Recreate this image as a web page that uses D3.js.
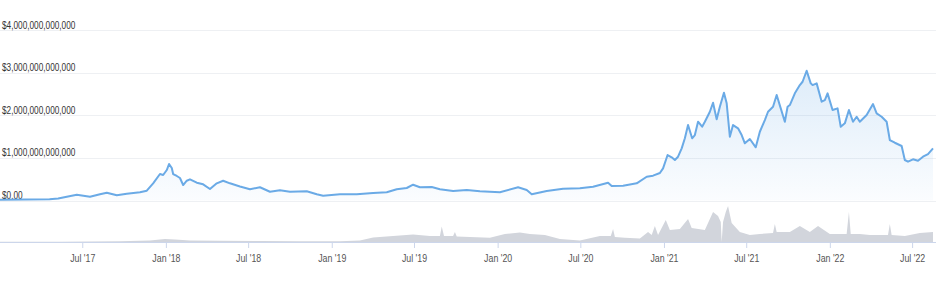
<!DOCTYPE html>
<html>
<head>
<meta charset="utf-8">
<script src="https://cdn.jsdelivr.net/npm/d3@7/dist/d3.min.js"></script>
<style>
  body { margin: 0; background: #fff; }
  svg { display: block; font-family: "Liberation Sans", Arial, sans-serif; }
</style>
</head>
<body>
<svg width="936" height="288"></svg>
<script>
// total market cap, billions of USD
var capDates = [
  "2017-01-01","2017-02-25","2017-04-20","2017-05-09","2017-05-28","2017-06-19","2017-07-18","2017-08-09",
  "2017-08-24","2017-09-15","2017-10-07","2017-11-05","2017-11-20","2017-12-04","2017-12-19","2017-12-26",
  "2018-01-03","2018-01-08","2018-01-14","2018-01-17","2018-01-25","2018-02-01","2018-02-08","2018-02-16",
  "2018-02-23","2018-03-10","2018-03-24","2018-04-08","2018-04-23","2018-05-07","2018-05-22","2018-06-13",
  "2018-07-05","2018-07-27","2018-08-18","2018-09-09","2018-10-01","2018-11-07","2018-11-29","2018-12-13",
  "2019-01-19","2019-02-25","2019-04-02","2019-05-02","2019-05-24","2019-06-15","2019-06-29","2019-07-14",
  "2019-08-09","2019-08-27","2019-09-25","2019-10-25","2019-11-23","2020-01-06","2020-02-15","2020-03-05",
  "2020-03-16","2020-04-18","2020-05-24","2020-06-30","2020-07-29","2020-08-31","2020-09-08","2020-10-03",
  "2020-11-02","2020-11-24","2020-12-08","2020-12-23","2020-12-30","2021-01-09","2021-01-18","2021-01-25",
  "2021-02-01","2021-02-09","2021-02-16","2021-02-23","2021-03-04","2021-03-10","2021-03-17","2021-03-26",
  "2021-04-01","2021-04-12","2021-04-19","2021-04-27","2021-05-04","2021-05-13","2021-05-19","2021-05-26",
  "2021-06-02","2021-06-13","2021-06-21","2021-06-28","2021-07-09","2021-07-22","2021-07-31","2021-08-11",
  "2021-08-18","2021-08-29","2021-09-06","2021-09-15","2021-09-24","2021-09-30","2021-10-05","2021-10-16",
  "2021-10-27","2021-11-02","2021-11-11","2021-11-20","2021-11-24","2021-12-03","2021-12-14","2021-12-21",
  "2021-12-27","2022-01-07","2022-01-18","2022-01-25","2022-02-03","2022-02-12","2022-02-21","2022-03-01",
  "2022-03-08","2022-03-23","2022-04-06","2022-04-14","2022-04-25","2022-05-06","2022-05-13","2022-05-24",
  "2022-06-08","2022-06-15","2022-06-22","2022-07-03","2022-07-14","2022-07-25","2022-08-05","2022-08-16"
];
var capValues = [
  18, 21, 28, 47, 89, 136, 89, 145,
  183, 122, 160, 192, 230, 403, 621, 598,
  715, 856, 762, 621, 575, 528, 363, 464,
  497, 417, 380, 270, 403, 464, 403, 328,
  263, 310, 206, 239, 206, 216, 145, 113,
  145, 145, 176, 192, 263, 293, 370, 310,
  317, 263, 223, 246, 218, 192, 310, 246,
  145, 223, 277, 286, 324, 417, 340, 347,
  403, 558, 582, 645, 755, 1067, 1013, 950,
  1027, 1224, 1459, 1770, 1459, 1536, 1848, 1731,
  1848, 2082, 2293, 1904, 2200, 2528, 2279, 1496,
  1770, 1693, 1536, 1341, 1442, 1248, 1613, 1888,
  2082, 2200, 2474, 2162, 1848, 2200, 2239, 2514,
  2708, 2786, 3044, 2748, 2708, 2748, 2317, 2357,
  2514, 2122, 2162, 1731, 1810, 2122, 1848, 1965,
  1848, 2005, 2263, 2045, 1965, 1848, 1419, 1355,
  1278, 950, 910, 966, 933, 1027, 1090, 1224
];

// trading volume, billions of USD
var volDates = [
  "2017-01-01","2017-05-13","2017-09-22","2017-11-27","2017-12-30","2018-01-21","2018-02-23","2018-04-30",
  "2018-07-27","2018-10-23","2019-01-19","2019-03-04","2019-04-02","2019-05-16","2019-06-29","2019-08-05",
  "2019-08-27","2019-08-31","2019-09-05","2019-09-25","2019-09-29","2019-10-03","2019-11-01","2019-12-15",
  "2020-01-17","2020-02-19","2020-03-12","2020-04-14","2020-05-17","2020-06-30","2020-08-13","2020-09-06",
  "2020-09-11","2020-09-15","2020-10-07","2020-11-09","2020-11-27","2020-12-05","2020-12-12","2020-12-19",
  "2021-01-05","2021-01-14","2021-02-05","2021-02-23","2021-03-03","2021-04-01","2021-04-19","2021-04-30",
  "2021-05-06","2021-05-08","2021-05-11","2021-05-17","2021-05-22","2021-05-30","2021-06-17","2021-07-09",
  "2021-07-31","2021-08-29","2021-09-02","2021-09-06","2021-10-05","2021-10-27","2021-11-18","2021-12-06",
  "2022-01-01","2022-02-07","2022-02-12","2022-02-16","2022-03-08","2022-03-30","2022-05-09","2022-05-13",
  "2022-05-17","2022-06-15","2022-07-18","2022-08-16"
];
var volValues = [
  2, 3, 9, 17, 34, 28, 17, 15,
  11, 9, 9, 17, 52, 68, 86, 68,
  68, 177, 68, 68, 114, 62, 57, 49,
  91, 109, 91, 79, 34, 18, 68, 68,
  148, 57, 49, 40, 114, 79, 182, 79,
  250, 136, 148, 261, 159, 136, 340, 295,
  227, 0, 227, 340, 409, 216, 114, 79,
  91, 102, 204, 114, 114, 182, 114, 182,
  91, 91, 340, 91, 91, 79, 79, 204,
  79, 68, 102, 114
];

var yTicks = [0, 1000, 2000, 3000, 4000];
var yTickLabels = ["$0.00", "$1,000,000,000,000", "$2,000,000,000,000", "$3,000,000,000,000", "$4,000,000,000,000"];
var xTickDates = ["2017-07-01","2018-01-01","2018-07-01","2019-01-01","2019-07-01","2020-01-01","2020-07-01","2021-01-01","2021-07-01","2022-01-01","2022-07-01"];
var xTickLabels = ["Jul '17","Jan '18","Jul '18","Jan '19","Jul '19","Jan '20","Jul '20","Jan '21","Jul '21","Jan '22","Jul '22"];

function createChart() {
  var svg = d3.select("svg"),
    width = +svg.attr("width"),
    parseDate = d3.timeParse("%Y-%m-%d");

  var cap = capDates.map(function(d, i) { return {date: parseDate(d), value: capValues[i]}; });
  var vol = volDates.map(function(d, i) { return {date: parseDate(d), value: volValues[i]}; });

  var x = d3.scaleTime()
    .domain(d3.extent(cap, function(d) { return d.date; }))
    .range([0, 933]);
  var y = d3.scaleLinear().domain([0, 4000]).range([200.5, 30]);
  var yVol = d3.scaleLinear().domain([0, 420]).range([242, 205]);

  // gradient under the line
  var grad = svg.append("defs").append("linearGradient")
    .attr("id", "capFill")
    .attr("gradientUnits", "userSpaceOnUse")
    .attr("x1", 0).attr("y1", y(3000)).attr("x2", 0).attr("y2", y(0));
  grad.append("stop").attr("offset", 0).attr("stop-color", "#6aaae6").attr("stop-opacity", 0.22);
  grad.append("stop").attr("offset", 1).attr("stop-color", "#6aaae6").attr("stop-opacity", 0.03);

  // horizontal grid + labels (the font is squeezed a bit, the original uses a narrow face)
  var grid = svg.append("g");
  grid.selectAll("line")
    .data(yTicks).enter().append("line")
    .attr("x1", 0).attr("x2", width)
    .attr("y1", function(d) { return Math.round(y(d)) + 0.5; })
    .attr("y2", function(d) { return Math.round(y(d)) + 0.5; })
    .attr("stroke", "#eef0f3");
  grid.selectAll("text")
    .data(yTicks).enter().append("text")
    .attr("transform", function(d) { return "translate(2," + (y(d) - 1.5) + ") scale(0.75,1)"; })
    .attr("fill", "#333")
    .style("font-size", "11px")
    .text(function(d, i) { return yTickLabels[i]; });

  // volume
  svg.append("path")
    .datum(vol)
    .attr("fill", "#d2d5dc")
    .attr("d", d3.area()
      .x(function(d) { return x(d.date); })
      .y0(yVol(0))
      .y1(function(d) { return yVol(d.value); }));

  // x axis
  var xAxis = svg.append("g")
    .attr("transform", "translate(0," + yVol(0) + ")")
    .call(d3.axisBottom(x)
      .tickValues(xTickDates.map(parseDate))
      .tickFormat(function(d, i) { return xTickLabels[i]; })
      .tickSizeOuter(0)
      .tickSize(6)
      .tickPadding(6));
  xAxis.select(".domain").attr("stroke", "#ccd6eb").attr("d", "M0,0.5H" + width);
  xAxis.selectAll(".tick line").attr("stroke", "#ccd6eb");
  xAxis.selectAll(".tick text")
    .attr("fill", "#555")
    .attr("transform", "scale(0.8,1)")
    .style("font-family", "inherit")
    .style("font-size", "11px");

  // area + line
  svg.append("path")
    .datum(cap)
    .attr("fill", "url(#capFill)")
    .attr("d", d3.area()
      .x(function(d) { return x(d.date); })
      .y0(y(0))
      .y1(function(d) { return y(d.value); }));
  svg.append("path")
    .datum(cap)
    .attr("fill", "none")
    .attr("stroke", "#6aaae6")
    .attr("stroke-width", 2)
    .attr("stroke-linejoin", "round")
    .attr("d", d3.line()
      .x(function(d) { return x(d.date); })
      .y(function(d) { return y(d.value); }));
}

createChart();
</script>
</body>
</html>
